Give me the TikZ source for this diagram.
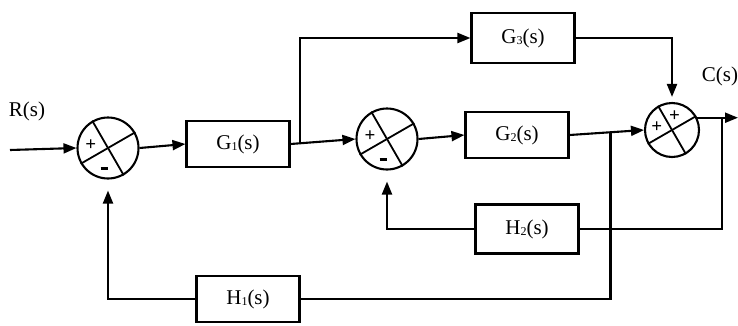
\documentclass[tikz,border=0pt]{standalone}
\usepackage{fontspec}
\setmainfont{Liberation Serif}
\usetikzlibrary{arrows.meta,calc}
\newcommand\sbx[1]{\raisebox{-1pt}{\fontsize{12}{12}\selectfont #1}}
\newcommand\mdash{\rule[4pt]{7pt}{2.4pt}}
\begin{document}
\begin{tikzpicture}[x=1pt,y=-1pt,
  line width=2.1pt,
  blk/.style={draw, line width=2.1pt, minimum width=103pt, minimum height=46pt, inner sep=0pt, font=\fontsize{21}{24}\selectfont},
  sumj/.style={draw, circle, line width=2.1pt, minimum size=61pt, inner sep=0pt},
  sgn/.style={font=\fontsize{19}{19}\selectfont\bfseries, inner sep=0pt},
  arr/.style={-{Triangle[length=13pt,width=10pt]}},
  lbl/.style={font=\fontsize{21}{24}\selectfont, inner sep=0pt}
]
\useasboundingbox (0,0) rectangle (738,325);

% blocks and junctions
\node[sumj] (s1) at (108,148) {};
\node[blk] (g1) at (238,144) {G\sbx{1}(s)};
\node[sumj] (s2) at (387,139) {};
\node[blk] (g2) at (517,135) {G\sbx{2}(s)};
\node[blk, minimum height=50pt] (g3) at (523,38) {G\sbx{3}(s)};
\node[sumj, minimum size=54pt] (s3) at (672,130) {};
\node[blk, minimum height=49pt] (h2) at (527,229) {H\sbx{2}(s)};
\node[blk] (h1) at (248,299) {H\sbx{1}(s)};
\node[lbl] (R) at (27,111) {R(s)};
\node[lbl] (C) at (720,76) {C(s)};

% crosses inside junctions
\foreach \s in {s1,s2,s3} {
  \draw[line width=1.8pt] (\s.120) -- (\s.-60);
  \draw[line width=1.8pt] (\s.30) -- (\s.210);
}

% signs
\node[sgn] at ($(s1.center)!0.55!(s1.170)$) {+};
\node[sgn] at ($(s1.center)!0.72!(s1.260)$) {\mdash};
\node[sgn] at ($(s2.center)!0.55!(s2.170)$) {+};
\node[sgn] at ($(s2.center)!0.72!(s2.260)$) {\mdash};
\node[sgn] at ($(s3.center)!0.55!(s3.170)$) {+};
\node[sgn] at ($(s3.center)!0.5!(s3.80)$) {+};

% coordinates
\coordinate (in) at (10,150);
\coordinate (b1) at ($(g1.east)+(9,0)$);
\coordinate (b2) at ($(g2.east)!0.55!(s3.west)$);
\coordinate (outx) at (738,0);
\coordinate (b3x) at (722,0);

% forward path
\draw[arr] (in) -- (s1.west);
\draw[arr] (s1.east) -- (g1.west);
\draw[arr] (g1.east) -- (s2.west);
\draw[arr] (b1) |- (g3.west);
\draw[arr] (s2.east) -- (g2.west);
\draw[arr] (g2.east) -- (s3.west);
\draw[arr, shorten >=5pt] (g3.east) -| (s3.north);
\draw[arr] (s3.26) -- (s3.26 -| outx);

% feedback paths
\draw (s3.26 -| b3x) |- (h2.east);
\draw[arr, shorten >=11pt] (h2.west) -| (s2.south);
\draw (b2) |- (h1.east);
\draw[arr, shorten >=11pt] (h1.west) -| (s1.south);
\end{tikzpicture}
\end{document}
